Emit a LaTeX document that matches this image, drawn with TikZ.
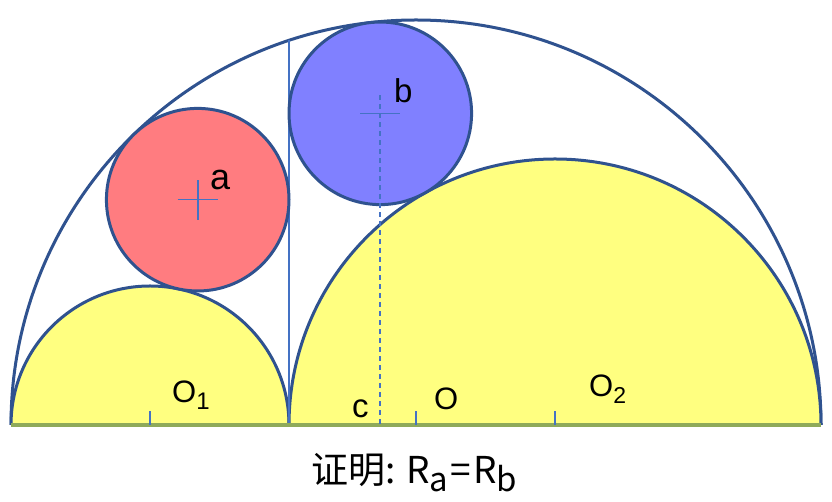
\documentclass[tikz,border=0pt]{standalone}
\usepackage{fontspec}
\setmainfont{Liberation Sans}
\newfontfamily\cjk{Noto Sans CJK SC}
\definecolor{outl}{HTML}{2F528F}
\definecolor{acc}{HTML}{4472C4}
\definecolor{yel}{HTML}{FFFF80}
\definecolor{redf}{HTML}{FF7C80}
\definecolor{bluf}{HTML}{8080FF}
\definecolor{basec}{HTML}{8FAA5A}
\begin{document}
\begin{tikzpicture}[x=1pt,y=1pt,
  outline/.style={draw=outl,line width=3pt},
  accent/.style={draw=acc,line width=1.6pt},
  lab/.style={inner sep=0pt,anchor=base west,text=black}]
\useasboundingbox (0,-77) rectangle (832,425);
\coordinate (A) at (11,0);
\coordinate (B) at (821,0);
\coordinate (C) at (289,0);
\coordinate (O) at (416,0);
\coordinate (O1) at (150,0);
\coordinate (O2) at (555,0);
\coordinate (ca) at (197.71,225.30);
\coordinate (cb) at (380.29,311.67);
\coordinate (T) at (289,384.6);
% big semicircle
\draw[outline] (B) arc (0:180:405);
% small semicircles
\fill[yel] (C) arc (0:180:139) -- cycle;
\draw[outline] (C) arc (0:180:139);
\fill[yel] (B) arc (0:180:266) -- cycle;
\draw[outline] (B) arc (0:180:266);
% perpendicular line
\draw[acc,line width=2.6pt] (C) -- (T);
% twin circles
\filldraw[fill=redf,outline] (ca) circle (91.29);
\filldraw[fill=bluf,outline] (cb) circle (91.29);
% baseline
\draw[basec,line width=3.5pt] (A) -- (B);
% ticks
\draw[accent] (O1) -- ++(0,14);
\draw[accent] (O) -- ++(0,14);
\draw[accent] (O2) -- ++(0,14);
% crosses
\draw[accent] ([xshift=-20pt]ca) -- ([xshift=20pt]ca);
\draw[accent] ([yshift=-20pt]ca) -- ([yshift=20pt]ca);
\draw[accent] ([xshift=-20pt]cb) -- ([xshift=20pt]cb);
\draw[accent,dash pattern=on 5pt off 4pt] ([yshift=18pt]cb) -- (cb |- A);
% labels
\node[lab,font=\fontsize{31}{33}\selectfont] (lO1) at (172,22) {O\raisebox{-7pt}{\fontsize{24}{26}\selectfont 1}};
\node[lab,font=\fontsize{31}{33}\selectfont] (lO) at (434,15) {O};
\node[lab,font=\fontsize{31}{33}\selectfont] (lO2) at (589,28) {O\raisebox{-7pt}{\fontsize{23}{25}\selectfont 2}};
\node[lab,font=\fontsize{33}{35}\selectfont] (lc) at (352,7) {c};
\node[lab,font=\fontsize{36}{38}\selectfont] (la) at (210,235) {a};
\node[lab,font=\fontsize{33}{35}\selectfont] (lb) at (394,322) {b};
\node[inner sep=0pt,anchor=base,font=\cjk\fontsize{37}{40}\selectfont] (proof) at (414,-59)
  {证明: R\raisebox{-8pt}{\fontsize{33}{35}\selectfont a}\kern2pt=\kern2pt R\raisebox{-8pt}{\fontsize{33}{35}\selectfont b}};
\end{tikzpicture}
\end{document}
